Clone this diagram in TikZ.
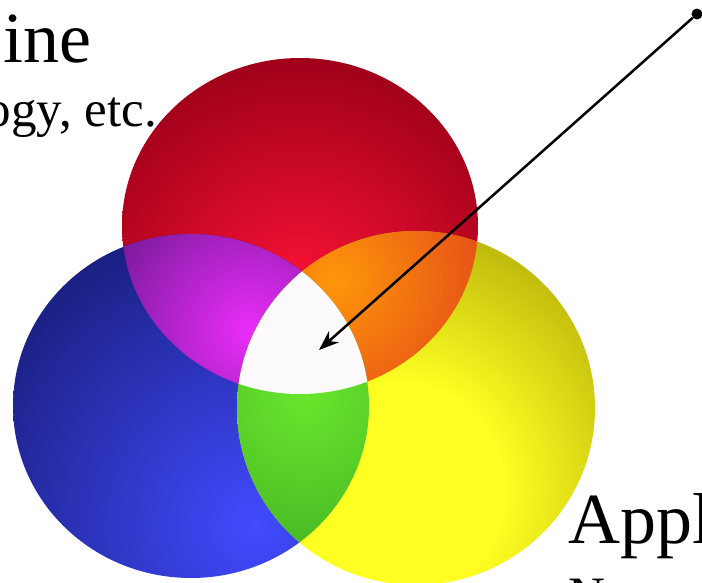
\documentclass[tikz,border=0pt]{standalone}
\usepackage{fontspec}
\setmainfont{Liberation Serif}
\usepackage{tikz}
\usetikzlibrary{arrows.meta}

\definecolor{redhi}{RGB}{255,20,55}
\definecolor{redlo}{RGB}{158,0,25}
\definecolor{bluehi}{RGB}{65,75,255}
\definecolor{bluelo}{RGB}{25,30,125}
\definecolor{yellowhi}{RGB}{255,255,35}
\definecolor{yellowlo}{RGB}{185,180,10}
\definecolor{magentahi}{RGB}{235,45,250}
\definecolor{magentalo}{RGB}{115,25,150}
\definecolor{orangehi}{RGB}{255,150,10}
\definecolor{orangelo}{RGB}{225,70,25}
\definecolor{greenhi}{RGB}{105,230,45}
\definecolor{greenlo}{RGB}{65,175,35}
\definecolor{whitemix}{RGB}{252,250,252}

\pgfdeclareradialshading{yellowglow}{\pgfpoint{0bp}{0bp}}{color(0bp)=(yellowhi); color(9bp)=(yellowhi); color(23bp)=(yellowlo); color(50bp)=(yellowlo)}

\newcommand\redring{(300,226) ellipse [x radius=178pt,y radius=168pt]}
\newcommand\bluering{(191,406) ellipse [x radius=178pt,y radius=172pt]}
\newcommand\yellowring{(416,408) ellipse [x radius=179pt,y radius=177pt]}

\begin{document}
\begin{tikzpicture}[x=1pt,y=-1pt,>=Stealth,
 headline/.style={inner sep=0pt,font=\fontsize{72}{76}\selectfont},
 subline/.style={inner sep=0pt,font=\fontsize{51}{55}\selectfont},
 pointer/.style={-{Stealth[length=20pt,width=15pt]},line width=2.5pt,black},
 dot/.style={circle,fill=black,inner sep=0pt,minimum size=11pt}]
\useasboundingbox (0,0) rectangle (702,583);
\begin{scope}
 \clip \redring;
 \shade[inner color=redhi,outer color=redlo] (300,305) circle (250pt);
\end{scope}
\begin{scope}
 \clip \bluering;
 \shade[inner color=bluehi,outer color=bluelo] (255,525) circle (320pt);
\end{scope}
\begin{scope}
 \clip \yellowring;
 \shade[shading=yellowglow] (395,490) circle (300pt);
\end{scope}
\begin{scope}
 \clip \redring; \clip \bluering;
 \shade[inner color=magentahi,outer color=magentalo] (250,330) circle (165pt);
\end{scope}
\begin{scope}
 \clip \redring; \clip \yellowring;
 \shade[inner color=orangehi,outer color=orangelo] (335,280) circle (175pt);
\end{scope}
\begin{scope}
 \clip \bluering; \clip \yellowring;
 \shade[inner color=greenhi,outer color=greenlo] (305,395) circle (190pt);
\end{scope}
\begin{scope}
 \clip \redring; \clip \bluering; \clip \yellowring;
 \fill[whitemix] (300,330) circle (150pt);
\end{scope}
\node[headline,anchor=base west] (med) at (3,63) {ine};
\node[subline,anchor=base east] (bio) at (157,127) {ogy, etc.};
\node[headline,anchor=base west] (app) at (568,543) {Appl};
\node[subline,anchor=base west] (nxt) at (568,612) {N};
\node[dot] (src) at (697,14) {};
\coordinate (core) at (319,350);
\draw[pointer] (src) -- (core);
\end{tikzpicture}
\end{document}
